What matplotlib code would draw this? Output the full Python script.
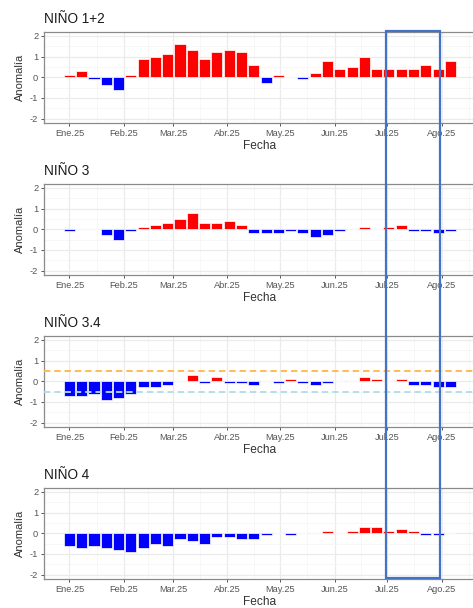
import matplotlib
matplotlib.use("Agg")
import matplotlib.pyplot as plt
import matplotlib.dates as mdates
from matplotlib.patches import Rectangle
from matplotlib.ticker import FixedLocator
import numpy as np
import pandas as pd

plt.rcParams['font.family'] = ['Liberation Sans', 'DejaVu Sans']
plt.rcParams['axes.unicode_minus'] = False

# ---- data ----
weeks = pd.date_range("2025-01-01", periods=32, freq="7D")

nino12 = [0.1, 0.3, -0.1, -0.4, -0.6, 0.1, 0.9, 1.0, 1.1, 1.6, 1.3, 0.9, 1.2, 1.3, 1.2, 0.6,
          -0.3, 0.1, 0.0, -0.1, 0.2, 0.8, 0.4, 0.5, 1.0, 0.4, 0.4, 0.4, 0.4, 0.6, 0.4, 0.8]
nino3 = [-0.1, 0.0, 0.0, -0.3, -0.5, -0.1, 0.1, 0.2, 0.3, 0.5, 0.8, 0.3, 0.3, 0.4, 0.2, -0.2,
         -0.2, -0.2, -0.1, -0.2, -0.4, -0.3, -0.1, 0.0, 0.1, 0.0, 0.1, 0.2, -0.1, -0.1, -0.2, -0.1]
nino34 = [-0.7, -0.7, -0.6, -0.9, -0.8, -0.6, -0.3, -0.3, -0.2, 0.0, 0.3, -0.1, 0.2, -0.1, -0.1, -0.2,
          0.0, -0.1, 0.1, -0.1, -0.2, -0.1, 0.0, 0.0, 0.2, 0.1, 0.0, 0.1, -0.2, -0.2, -0.3, -0.3]
nino4 = [-0.6, -0.7, -0.6, -0.7, -0.8, -0.9, -0.7, -0.5, -0.6, -0.3, -0.4, -0.5, -0.2, -0.2, -0.3, -0.3,
         -0.1, 0.0, -0.1, 0.0, 0.0, 0.1, 0.0, 0.1, 0.3, 0.3, 0.1, 0.2, 0.1, -0.1, -0.1, 0.0]

titles = ["NIÑO 1+2", "NIÑO 3", "NIÑO 3.4", "NIÑO 4"]
series = [nino12, nino3, nino34, nino4]

month_starts = pd.date_range("2025-01-01", periods=8, freq="MS")
month_labels = ["Ene.25", "Feb.25", "Mar.25", "Abr.25", "May.25", "Jun.25", "Jul.25", "Ago.25"]
yticks = [-2, -1, 0, 1, 2]

W, H = 473, 608
fig = plt.figure(figsize=(W / 100, H / 100), dpi=100)

left_px, right_px = 44.3, 475.5
x0 = mdates.date2num(pd.Timestamp("2025-01-01"))
xlim = (x0 - 14.3, x0 + 231.3)

mnum = mdates.date2num(month_starts)
minor = list((mnum[:-1] + mnum[1:]) / 2)
minor.append(mnum[-1] + (mnum[-1] - mnum[-2]) / 2)

grid_major = '#ebebeb'
grid_minor = '#f4f4f4'

for k, (title, vals) in enumerate(zip(titles, series)):
    top_px = 31.7 + 152 * k
    bot_px = 122.7 + 152 * k
    ax = fig.add_axes([left_px / W, 1 - bot_px / H, (right_px - left_px) / W, (bot_px - top_px) / H])
    vals = np.array(vals)
    colors = np.where(vals > 0, '#FF0000', '#0000FF')
    ax.bar(mdates.date2num(weeks), vals, width=6.3, color=colors,
           edgecolor='#ffffff', linewidth=0.5, zorder=3)
    if k == 2:
        ax.axhline(0.5, color='#FFB547', linestyle=(0, (3.5, 2.2)), linewidth=1.3, zorder=4)
        ax.axhline(-0.5, color='#AEDCEB', linestyle=(0, (3.5, 2.2)), linewidth=1.3, zorder=4)
    ax.set_xlim(*xlim)
    ax.set_ylim(-2.2, 2.2)
    ax.set_xticks(mnum)
    ax.set_xticklabels(month_labels)
    ax.xaxis.set_minor_locator(FixedLocator(minor))
    ax.set_yticks(yticks)
    ax.yaxis.set_minor_locator(FixedLocator([-1.5, -0.5, 0.5, 1.5]))
    ax.grid(which='major', color=grid_major, linewidth=0.9, zorder=0)
    ax.grid(which='minor', color=grid_minor, linewidth=0.5, zorder=0)
    ax.set_axisbelow(True)
    ax.tick_params(which='major', length=2.5, width=0.7, color='#555555',
                   labelsize=6.7, labelcolor='#555555', pad=1.8)
    ax.tick_params(which='minor', length=0)
    for s in ax.spines.values():
        s.set_color('#8a8a8a')
        s.set_linewidth(0.9)
    ax.set_xlabel("Fecha", fontsize=8.6, labelpad=1.5, color='#333333')
    ax.set_ylabel("Anomalía", fontsize=8, color='#333333')
    ax.yaxis.label.set_va('center')
    ax.yaxis.set_label_coords((20 - left_px) / (right_px - left_px), 0.5)
    ax.set_title(title, loc='left', fontsize=9.8, pad=6.0, color='#1a1a1a')

# highlight rectangle (annotation overlay)
rect = Rectangle((386, H - 578.4), 440 - 386, 578.4 - 30.6, transform=None,
                 fill=False, edgecolor='#4472C4', linewidth=1.6, zorder=10)
fig.add_artist(rect)

fig.savefig("out.png", dpi=100)
